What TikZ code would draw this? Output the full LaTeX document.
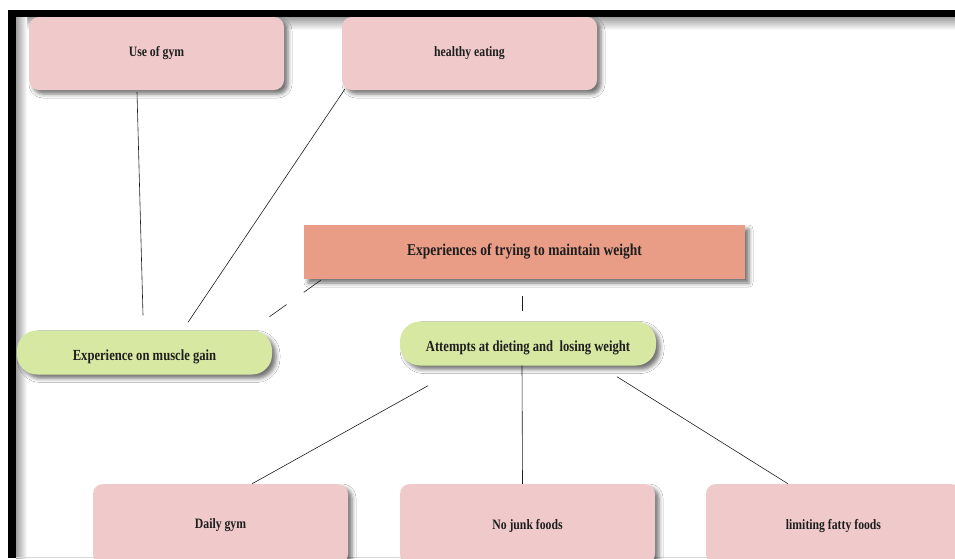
\documentclass[tikz,border=0pt]{standalone}
\usepackage{fontspec}
\setmainfont{Liberation Serif}[FakeStretch=0.82]
\usetikzlibrary{shadows.blur}
\definecolor{pinkbox}{HTML}{F0CACA}
\definecolor{salmonbox}{HTML}{E99D87}
\definecolor{greenbox}{HTML}{D7E8A3}
\definecolor{inkdark}{HTML}{1E1E1E}
\begin{document}
\begin{tikzpicture}[x=1pt,y=-1pt,
  boxbase/.style={inner sep=0pt, text=inkdark,
    blur shadow={shadow xshift=4pt, shadow yshift=-4pt,
      shadow blur radius=4pt, shadow opacity=55}},
  pinkcard/.style={boxbase, fill=pinkbox, rounded corners=10pt,
    font=\bfseries\fontsize{14.3}{16}\selectfont,
    minimum width=255pt, minimum height=73pt},
  lowcard/.style={pinkcard, minimum height=80pt, text depth=0pt},
  pillbox/.style={boxbase, fill=greenbox, rounded corners=20pt,
    font=\bfseries\fontsize{15.4}{17}\selectfont,
    minimum height=44pt, text height=16pt, text depth=0pt},
  titlebox/.style={boxbase, fill=salmonbox, minimum width=441pt,
    font=\bfseries\fontsize{16.5}{18}\selectfont,
    minimum height=54pt},
  link/.style={draw=inkdark, line width=0.6pt}
]
\useasboundingbox (0,0) rectangle (955,558);
\fill[white] (0,0) rectangle (955,558);

% soft shade along the frame edges
\shade[top color=gray!75, bottom color=white] (16,17) rectangle (955,30);
\shade[left color=gray!75, right color=white] (16,17) rectangle (27,558);
\draw[gray!30, line width=0.8pt] (16,557) -- (955,557);

% cards
\node[pinkcard] (gym) at (156.5,53.5) {Use of gym};
\node[pinkcard] (eating) at (469.5,53.5) {healthy eating};
\node[titlebox] (title) at (524.5,252) {Experiences of trying to maintain weight};
\node[pillbox, minimum width=255pt] (muscle) at (144.5,352.5) {Experience on muscle gain};
\node[pillbox, minimum width=256pt] (attempts) at (528,343.5) {Attempts at dieting and\ \ losing weight};
\node[lowcard] (daily) at (220.5,524) {Daily gym};
\node[lowcard] (junk) at (527.5,524) {No junk foods};
\node[lowcard] (fatty) at (833.5,524) {limiting fatty foods};

% connectors
\draw[link] ([xshift=-19.5pt,yshift=-2pt]gym.south) -- ([xshift=-1.5pt,yshift=15pt]muscle.north);
\draw[link] ([xshift=3pt,yshift=1pt]eating.south west) -- ([xshift=43.5pt,yshift=8pt]muscle.north);
\draw[link, dash pattern=on 21pt off 21pt]
  ([xshift=17pt,yshift=-1pt]title.south west) -- ([xshift=-19pt,yshift=2pt]muscle.north east);
\draw[link] ([xshift=-2.5pt,yshift=-17pt]title.south) -- ([xshift=-6pt,yshift=10pt]attempts.north);
\draw[link] ([xshift=-6pt]attempts.south) -- ([xshift=-5pt]junk.north);
\draw[link] ([xshift=-100pt,yshift=-20pt]attempts.south) -- ([xshift=31.5pt]daily.north);
\draw[link] ([xshift=89pt,yshift=-11pt]attempts.south) -- ([xshift=-45.5pt]fatty.north);

% frame
\fill[black] (8,10) rectangle (955,17);
\fill[black] (8,10) rectangle (16,558);
\end{tikzpicture}
\end{document}
